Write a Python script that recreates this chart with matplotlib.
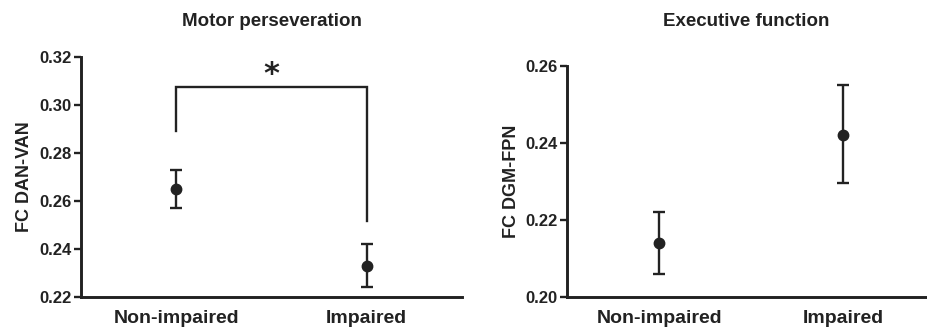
import matplotlib.pyplot as plt

plt.rcParams['font.family'] = ['Liberation Sans', 'DejaVu Sans']
plt.rcParams['font.weight'] = 'bold'

groups = ["Non-impaired", "Impaired"]

# motor perseveration: FC DAN-VAN, mean and error bar ends
motor_mean = [0.265, 0.233]
motor_low = [0.257, 0.224]
motor_high = [0.273, 0.242]

# executive function: FC DGM-FPN
exec_mean = [0.214, 0.242]
exec_low = [0.206, 0.2295]
exec_high = [0.222, 0.255]

# significance bracket (left leg end, top, right leg end)
bracket = [0.289, 0.3075, 0.2515]

ink = '#222222'

fig = plt.figure(figsize=(9.27, 3.27), dpi=100)
ax1 = fig.add_axes([0.0874, 0.0917, 0.411, 0.734])
ax2 = fig.add_axes([0.6117, 0.0917, 0.3873, 0.7064])


def draw_panel(ax, mean, low, high, title, ylabel, yticks):
    x = range(len(groups))
    err = [[m - l for m, l in zip(mean, low)], [h - m for m, h in zip(mean, high)]]
    ax.errorbar(x, mean, yerr=err, fmt='o', color=ink, ms=7.5, elinewidth=1.7,
                capsize=4, capthick=1.7, clip_on=False, zorder=3)
    ax.set_ylim(yticks[0], yticks[-1])
    ax.set_yticks(yticks)
    ax.set_yticklabels(["%.2f" % t for t in yticks], fontsize=12, fontweight='bold')
    ax.set_xticks(list(x))
    ax.set_xticklabels(groups, fontsize=14, fontweight='bold')
    # both titles sit on the same line of the figure
    bb = ax.get_position()
    fig.text((bb.x0 + bb.x1) / 2, 0.935, title, ha='center', va='center',
             fontsize=13.5, fontweight='bold', color=ink)
    ax.set_ylabel(ylabel, fontsize=13, fontweight='bold', color=ink)
    for side in ['top', 'right']:
        ax.spines[side].set_visible(False)
    for side in ['left', 'bottom']:
        ax.spines[side].set_linewidth(2.1)
        ax.spines[side].set_color(ink)
    ax.tick_params(axis='y', length=5, width=1.7, color=ink, labelcolor=ink, pad=2)
    ax.tick_params(axis='x', length=0, pad=9, labelcolor=ink)


draw_panel(ax1, motor_mean, motor_low, motor_high, "Motor perseveration",
           "FC DAN-VAN", [0.22, 0.24, 0.26, 0.28, 0.30, 0.32])
ax1.set_xlim(-0.5, 1.5)
ax1.plot([0, 0, 1, 1], bracket[:1] + [bracket[1], bracket[1]] + bracket[2:],
         color=ink, lw=1.7, solid_joinstyle='miter')
ax1.text(0.5, 0.3125, "*", ha='center', va='center', fontsize=22,
         fontweight='bold', color=ink, family='DejaVu Sans')

draw_panel(ax2, exec_mean, exec_low, exec_high, "Executive function",
           "FC DGM-FPN", [0.20, 0.22, 0.24, 0.26])
ax2.set_xlim(-0.5, 1.45)

fig.savefig("out.png", dpi=100)
